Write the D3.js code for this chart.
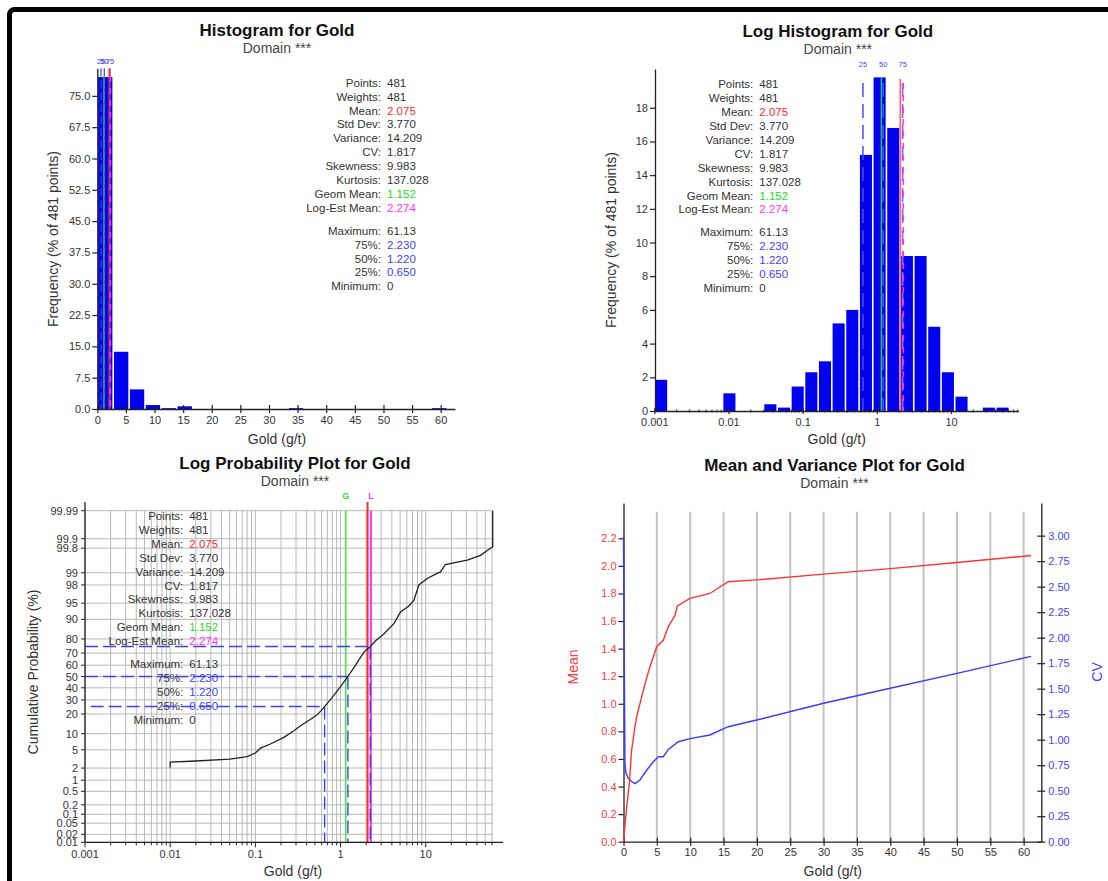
<!DOCTYPE html>
<html><head><meta charset="utf-8">
<script src="https://cdn.jsdelivr.net/npm/d3@7"></script>
<style>
body{margin:0;background:#fff;}
svg{display:block;font-family:"Liberation Sans",Arial,sans-serif;}
</style>
</head><body>
<svg id="c" width="1108" height="881"></svg>
<script>
// ---------------- DATA ----------------
const statLabels = ["Points:","Weights:","Mean:","Std Dev:","Variance:","CV:","Skewness:","Kurtosis:","Geom Mean:","Log-Est Mean:","Maximum:","75%:","50%:","25%:","Minimum:"];
const statValues = ["481","481","2.075","3.770","14.209","1.817","9.983","137.028","1.152","2.274","61.13","2.230","1.220","0.650","0"];
const statKinds  = ["n","n","mean","n","n","n","n","n","geom","logest","n","q","q","q","n"];

const meanValue = 2.075, geomMean = 1.152, logEstMean = 2.274;
const quantileValues = [0.65, 1.22, 2.23];
const quantileNames  = ["25", "50", "75"];
const quantileProbs  = [25, 50, 75];

// Histogram (linear), 22 bins from 0 to 61.13
const histEdges = [0,2.779,5.557,8.336,11.115,13.893,16.672,19.450,22.229,25.008,27.786,30.565,33.344,36.122,38.901,41.680,44.458,47.237,50.015,52.794,55.573,58.351,61.13];
const histFreq  = [79.5,13.7,4.7,0.95,0.2,0.65,0,0,0,0,0,0,0.2,0,0,0,0,0,0,0,0,0.2];
const histYTicks = [0,7.5,15,22.5,30,37.5,45,52.5,60,67.5,75];
const histXTicks = [0,5,10,15,20,25,30,35,40,45,50,55,60];

// Log histogram, 26 bins from 0.001 to 61.13
const logEdges = [0.001,0.001528,0.002335,0.003567,0.005450,0.008325,0.01272,0.01943,0.02969,0.04537,0.06932,0.1059,0.1618,0.2472,0.3777,0.5771,0.8817,1.347,2.058,3.145,4.806,7.342,11.22,17.14,26.19,40.01,61.13];
const logFreq  = [1.85,0,0,0,0,1.05,0,0,0.4,0.2,1.45,2.3,2.95,5.2,6.0,15.2,19.8,16.8,9.2,9.2,5.0,2.3,0.85,0,0.2,0.2];
const logYTicks = [0,2,4,6,8,10,12,14,16,18];
const logXTicks = [0.001,0.01,0.1,1,10];
const logXLabels = ["0.001","0.01","0.1","1","10"];

// Log probability plot
const probGold = [0.01,0.01,0.02,0.05,0.08,0.1,0.115,0.15,0.216,0.283,0.339,0.45,0.533,0.65,0.8,1.0,1.22,1.5,1.88,2.23,2.6,3.22,4.23,5.06,6.35,7.25,8.3,10.4,13.6,14.9,17.0,30.7,43.9,61.13,61.13];
const probCum  = [2.05,2.75,2.9,3.2,3.6,4.3,5.4,6.5,8.6,11.2,13.5,17,19.5,25,32,41,50,60,70.8,75,79,83,88.2,92.6,94.3,95.6,98.0,98.6,98.96,99.05,99.4,99.55,99.67,99.82,99.99];
const probTicks = [99.99,99.9,99.8,99,98,95,90,80,70,60,50,40,30,20,10,5,2,1,0.5,0.2,0.1,0.05,0.02,0.01];
const probTickLabels = ["99.99","99.9","99.8","99","98","95","90","80","70","60","50","40","30","20","10","5","2","1","0.5","0.2","0.1","0.05","0.02","0.01"];

// Mean and variance plot
const mvGold = [0,0.47,0.87,1.22,1.72,1.97,2.72,3.37,3.97,4.47,4.97,5.97,6.72,7.72,8.07,9.96,12.96,15.7,20.45,30,40,50,61.13];
const mvMean = [0,0.25,0.42,0.665,0.834,0.906,1.05,1.17,1.27,1.34,1.414,1.46,1.56,1.64,1.71,1.765,1.80,1.885,1.90,1.94,1.98,2.025,2.075];
const cvGold = [0,0.22,0.37,0.72,1.22,1.72,2.47,3.47,4.47,5.22,5.97,6.72,8.22,9.96,12.96,15.7,20.45,30,40,50,61.13];
const cvVal  = [2.99,0.77,0.67,0.62,0.59,0.57,0.605,0.70,0.784,0.833,0.833,0.905,0.98,1.01,1.046,1.127,1.20,1.357,1.504,1.65,1.817];
const mvXTicks = [0,5,10,15,20,25,30,35,40,45,50,55,60];
const meanTicks = [0,0.2,0.4,0.6,0.8,1.0,1.2,1.4,1.6,1.8,2.0,2.2];
const cvTicks = [0,0.25,0.5,0.75,1.0,1.25,1.5,1.75,2.0,2.25,2.5,2.75,3.0];

// ---------------- STYLE ----------------
const C = {axis:"#222", text:"#333", bar:"#0000f0", red:"#ff2a2a", green:"#22dd22", magenta:"#ff33ff", blue:"#3f3fff", grid:"#b8b8b8"};
const svg = d3.select("#c");

// outer frame
svg.append("rect").attr("x",9.5).attr("y",9.5).attr("width",1130).attr("height",900).attr("rx",5)
  .attr("fill","none").attr("stroke","#000").attr("stroke-width",5);

function titles(cx, y, t){
  svg.append("text").attr("x",cx).attr("y",y).attr("text-anchor","middle").attr("font-size",17)
    .attr("font-weight","bold").attr("fill","#111").text(t);
  svg.append("text").attr("x",cx).attr("y",y+17).attr("text-anchor","middle").attr("font-size",14)
    .attr("fill","#444").text("Domain ***");
}
function kindColor(k){ return k==="mean"?C.red: k==="geom"?C.green: k==="logest"?C.magenta: k==="q"?C.blue: C.text; }
function stats(xr, y0){
  const g = svg.append("g").attr("font-size",11.5);
  statLabels.forEach((l,i)=>{
    const y = y0 + (i<10 ? i*13.9 : 148 + (i-10)*13.9);
    g.append("text").attr("x",xr).attr("y",y).attr("text-anchor","end").attr("fill",C.text).text(l);
    g.append("text").attr("x",xr+6).attr("y",y).attr("fill",kindColor(statKinds[i])).text(statValues[i]);
  });
}
function styleAxis(g, col){
  g.selectAll("path.domain").attr("stroke",C.axis).attr("stroke-width",1.3);
  g.selectAll(".tick line").attr("stroke",C.axis).attr("stroke-width",1.2);
  g.selectAll(".tick text").attr("fill",col||C.text).attr("font-size",11).attr("font-family","Liberation Sans, Arial, sans-serif");
}
function crossX(g, h){ g.selectAll(".tick line").attr("y1",-h).attr("y2",h); }
function crossY(g, h){ g.selectAll(".tick line").attr("x1",-h).attr("x2",h); }
function vline(x, y1, y2, col, w, dash){
  const l = svg.append("line").attr("x1",x).attr("x2",x).attr("y1",y1).attr("y2",y2)
    .attr("stroke",col).attr("stroke-width",w);
  if(dash) l.attr("stroke-dasharray",dash);
  return l;
}
function axisLabelY(x, y, t, col){
  svg.append("text").attr("transform",`translate(${x},${y}) rotate(-90)`).attr("text-anchor","middle")
    .attr("font-size",14).attr("fill",col||"#333").text(t);
}
function axisLabelX(x, y, t){
  svg.append("text").attr("x",x).attr("y",y).attr("text-anchor","middle").attr("font-size",14).attr("fill","#333").text(t);
}

// ================= PANEL 1: Histogram =================
{
  const x = d3.scaleLinear([0,62.5],[97.3,455]);
  const y = d3.scaleLinear([0,81.6],[409,68.3]);
  titles(277, 36, "Histogram for Gold");
  svg.append("g").selectAll("rect").data(histFreq).join("rect")
    .attr("x",(d,i)=>x(histEdges[i])+0.8).attr("width",(d,i)=>x(histEdges[i+1])-x(histEdges[i])-1.6)
    .attr("y",d=>y(d)).attr("height",d=>y(0)-y(d)).attr("fill",C.bar);
  // stat lines
  quantileValues.forEach(q=>vline(x(q),68.3,409,C.blue,1.2,"8,4"));
  vline(x(geomMean),76,409,"#1fae5a",1.6);
  vline(x(meanValue),68.3,409,C.red,1.4);
  vline(x(logEstMean),76,409,C.magenta,1.6,"6,6");
  quantileValues.forEach((q,i)=>svg.append("text").attr("x",x(q)).attr("y",64).attr("text-anchor","middle")
    .attr("font-size",7.5).attr("fill",C.blue).text(quantileNames[i]));
  const gy = svg.append("g").attr("transform","translate(97.3,0)")
    .call(d3.axisLeft(y).tickValues(histYTicks).tickFormat(d3.format(".1f")).tickSize(5).tickSizeOuter(0).tickPadding(2));
  styleAxis(gy);
  const gx = svg.append("g").attr("transform","translate(0,409)")
    .call(d3.axisBottom(x).tickValues(histXTicks).tickSize(4).tickSizeOuter(0).tickPadding(3));
  styleAxis(gx); crossX(gx,4);
  stats(381, 86.7);
  axisLabelY(58, 239, "Frequency (% of 481 points)");
  axisLabelX(277, 444, "Gold (g/t)");
}

// ================= PANEL 2: Log Histogram =================
{
  const x = d3.scaleLog([0.001,80],[654.3,1018]);
  const y = d3.scaleLinear([0,20.3],[411,69]);
  titles(837.8, 37, "Log Histogram for Gold");
  svg.append("g").selectAll("rect").data(logFreq).join("rect")
    .attr("x",(d,i)=>x(logEdges[i])+0.8).attr("width",(d,i)=>x(logEdges[i+1])-x(logEdges[i])-1.6)
    .attr("y",d=>y(d)).attr("height",d=>y(0)-y(d)).attr("fill",C.bar);
  vline(x(quantileValues[0]),83,411,"#4a4aff",1.5,"14,7");
  vline(x(quantileValues[1]),83,411,"#4a4aff",1.5,"14,7");
  vline(x(geomMean),78,411,"#22cc44",1.5);
  vline(x(meanValue),79,411,"#ff6a6a",1.8);
  vline(x(quantileValues[2]),83,411,"#7070ff",1.5,"14,7");
  vline(x(logEstMean),83,411,C.magenta,1.5,"6,6");
  quantileValues.forEach((q,i)=>svg.append("text").attr("x",x(q)).attr("y",67).attr("text-anchor","middle")
    .attr("font-size",7.5).attr("fill",C.blue).text(quantileNames[i]));
  const gy = svg.append("g").attr("transform","translate(655,0)")
    .call(d3.axisLeft(y).tickValues(logYTicks).tickFormat(d3.format("d")).tickSize(5).tickSizeOuter(0).tickPadding(2));
  styleAxis(gy);
  const gx = svg.append("g").attr("transform","translate(0,411)")
    .call(d3.axisBottom(x).tickValues(logXTicks).tickFormat((d,i)=>logXLabels[i]).tickSize(4).tickSizeOuter(0).tickPadding(3));
  styleAxis(gx); crossX(gx,3);
  // minor ticks
  const minor = [];
  [0.001,0.01,0.1,1,10].forEach(b=>{ for(let m=2;m<=9;m++){ if(b*m<=80) minor.push(b*m);} });
  svg.append("g").selectAll("line").data(minor).join("line")
    .attr("x1",d=>x(d)).attr("x2",d=>x(d)).attr("y1",409.5).attr("y2",412.5).attr("stroke",C.axis).attr("stroke-width",1);
  stats(753.3, 88.3);
  axisLabelY(616, 240, "Frequency (% of 481 points)");
  axisLabelX(836.7, 444, "Gold (g/t)");
}

// ================= PANEL 3: Log Probability Plot =================
function probit(p){
  // Acklam inverse normal CDF
  const a=[-39.69683028665376,220.9460984245205,-275.9285104469687,138.3577518672690,-30.66479806614716,2.506628277459239];
  const b=[-54.47609879822406,161.5858368580409,-155.6989798598866,66.80131188771972,-13.28068155288572];
  const c=[-0.007784894002430293,-0.3223964580411365,-2.400758277161838,-2.549732539343734,4.374664141464968,2.938163982698783];
  const d=[0.007784695709041462,0.3224671290700398,2.445134137142996,3.754408661907416];
  const pl=0.02425, ph=1-pl; let q,r;
  if(p<pl){ q=Math.sqrt(-2*Math.log(p)); return (((((c[0]*q+c[1])*q+c[2])*q+c[3])*q+c[4])*q+c[5])/((((d[0]*q+d[1])*q+d[2])*q+d[3])*q+1); }
  if(p<=ph){ q=p-0.5; r=q*q; return (((((a[0]*r+a[1])*r+a[2])*r+a[3])*r+a[4])*r+a[5])*q/(((((b[0]*r+b[1])*r+b[2])*r+b[3])*r+b[4])*r+1); }
  q=Math.sqrt(-2*Math.log(1-p)); return -(((((c[0]*q+c[1])*q+c[2])*q+c[3])*q+c[4])*q+c[5])/((((d[0]*q+d[1])*q+d[2])*q+d[3])*q+1);
}
{
  const x = d3.scaleLog([0.001,61.13],[85,492.7]);
  const z = d3.scaleLinear([probit(0.0001),probit(0.9999)],[842.3,510.7]);
  const y = p => z(probit(p/100));
  titles(295, 469, "Log Probability Plot for Gold");
  // grid
  const vg = [];
  [0.001,0.01,0.1,1,10].forEach(b=>{ for(let m=1;m<=9;m++){ if(b*m<=61.13) vg.push(b*m);} });
  svg.append("g").selectAll("line").data(vg).join("line")
    .attr("x1",d=>x(d)).attr("x2",d=>x(d)).attr("y1",510.7).attr("y2",842.3).attr("stroke",C.grid).attr("stroke-width",1);
  svg.append("g").selectAll("line").data(probTicks).join("line")
    .attr("x1",85).attr("x2",492.7).attr("y1",d=>y(d)).attr("y2",d=>y(d)).attr("stroke",C.grid).attr("stroke-width",1);
  // stats text under lines
  stats(183.3, 520);
  // reference lines
  vline(x(geomMean),510.7,842.3,"#44ee44",1.6);
  vline(x(meanValue),502,842.3,C.red,2);
  vline(x(logEstMean),510.7,842.3,C.magenta,2);
  svg.append("text").attr("x",x(geomMean)).attr("y",499).attr("text-anchor","middle").attr("font-size",9).attr("font-weight","bold").attr("fill","#33dd33").text("G");
  svg.append("text").attr("x",x(logEstMean)).attr("y",499).attr("text-anchor","middle").attr("font-size",9).attr("font-weight","bold").attr("fill",C.magenta).text("L");
  quantileValues.forEach((q,i)=>{
    const yy = y(quantileProbs[i]);
    svg.append("line").attr("x1",i===0?90.7:85).attr("x2",x(q)).attr("y1",yy).attr("y2",yy)
      .attr("stroke","#4040ff").attr("stroke-width",1.4).attr("stroke-dasharray","13,5");
    svg.append("line").attr("x1",x(q)).attr("x2",x(q)).attr("y1",yy).attr("y2",842.3)
      .attr("stroke","#4040ff").attr("stroke-width",1.4).attr("stroke-dasharray","13,5");
  });
  // curve
  const pts = probGold.map((g,i)=>[x(g), y(probCum[i])]);
  svg.append("path").attr("d",d3.line()(pts)).attr("fill","none").attr("stroke","#222").attr("stroke-width",1.3);
  // axes
  svg.append("line").attr("x1",85).attr("x2",85).attr("y1",502).attr("y2",842.3).attr("stroke",C.axis).attr("stroke-width",1.3);
  svg.append("line").attr("x1",85).attr("x2",503).attr("y1",842.3).attr("y2",842.3).attr("stroke",C.axis).attr("stroke-width",1.3);
  const gyT = svg.append("g");
  probTicks.forEach((p,i)=>{
    gyT.append("line").attr("x1",81).attr("x2",85).attr("y1",y(p)).attr("y2",y(p)).attr("stroke",C.axis);
    gyT.append("text").attr("x",78).attr("y",y(p)+4).attr("text-anchor","end").attr("font-size",11).attr("fill",C.text).text(probTickLabels[i]);
  });
  const gxT = svg.append("g");
  vg.forEach(v=>{
    const major = logXTicks.includes(v);
    gxT.append("line").attr("x1",x(v)).attr("x2",x(v)).attr("y1",842.3).attr("y2",842.3+(major?5:3)).attr("stroke",C.axis);
  });
  logXTicks.forEach((v,i)=>gxT.append("text").attr("x",x(v)).attr("y",858).attr("text-anchor","middle").attr("font-size",11).attr("fill",C.text).text(logXLabels[i]));
  axisLabelY(38, 672, "Cumulative Probability (%)");
  axisLabelX(293, 876, "Gold (g/t)");
}

// ================= PANEL 4: Mean and Variance Plot =================
{
  const x = d3.scaleLinear([0,62.65],[623.5,1041.3]);
  const yM = d3.scaleLinear([0,2.456],[841.7,503]);
  const yC = d3.scaleLinear([0,3.32],[841.7,503]);
  titles(834.5, 471, "Mean and Variance Plot for Gold");
  svg.append("g").selectAll("line").data(mvXTicks.slice(1)).join("line")
    .attr("x1",d=>x(d)).attr("x2",d=>x(d)).attr("y1",511.7).attr("y2",841.7).attr("stroke","#c4c4c4").attr("stroke-width",2);
  const gl = svg.append("g").attr("transform",`translate(${x(0)},0)`)
    .call(d3.axisLeft(yM).tickValues(meanTicks).tickFormat(d3.format(".1f")).tickSize(5).tickSizeOuter(0).tickPadding(2));
  styleAxis(gl, "#ff3b3b");
  const gr = svg.append("g").attr("transform",`translate(1041.3,0)`)
    .call(d3.axisRight(yC).tickValues(cvTicks).tickFormat(d3.format(".2f")).tickSize(4).tickSizeOuter(0).tickPadding(3));
  styleAxis(gr, "#4444ff"); crossY(gr,4);
  const gb = svg.append("g").attr("transform","translate(0,841.7)")
    .call(d3.axisBottom(x).tickValues(mvXTicks).tickSize(4).tickSizeOuter(0).tickPadding(3));
  styleAxis(gb); crossX(gb,4);
  svg.append("path").attr("d",d3.line()(cvGold.map((g,i)=>[x(g),yC(cvVal[i])])))
    .attr("fill","none").attr("stroke","#3a3aff").attr("stroke-width",1.4);
  svg.append("path").attr("d",d3.line()(mvGold.map((g,i)=>[x(g),yM(mvMean[i])])))
    .attr("fill","none").attr("stroke","#ff3333").attr("stroke-width",1.4);
  axisLabelY(578, 667, "Mean", "#ff3b3b");
  axisLabelY(1102, 672, "CV", "#4444ff");
  axisLabelX(832.8, 876, "Gold (g/t)");
}
</script>
</body></html>
